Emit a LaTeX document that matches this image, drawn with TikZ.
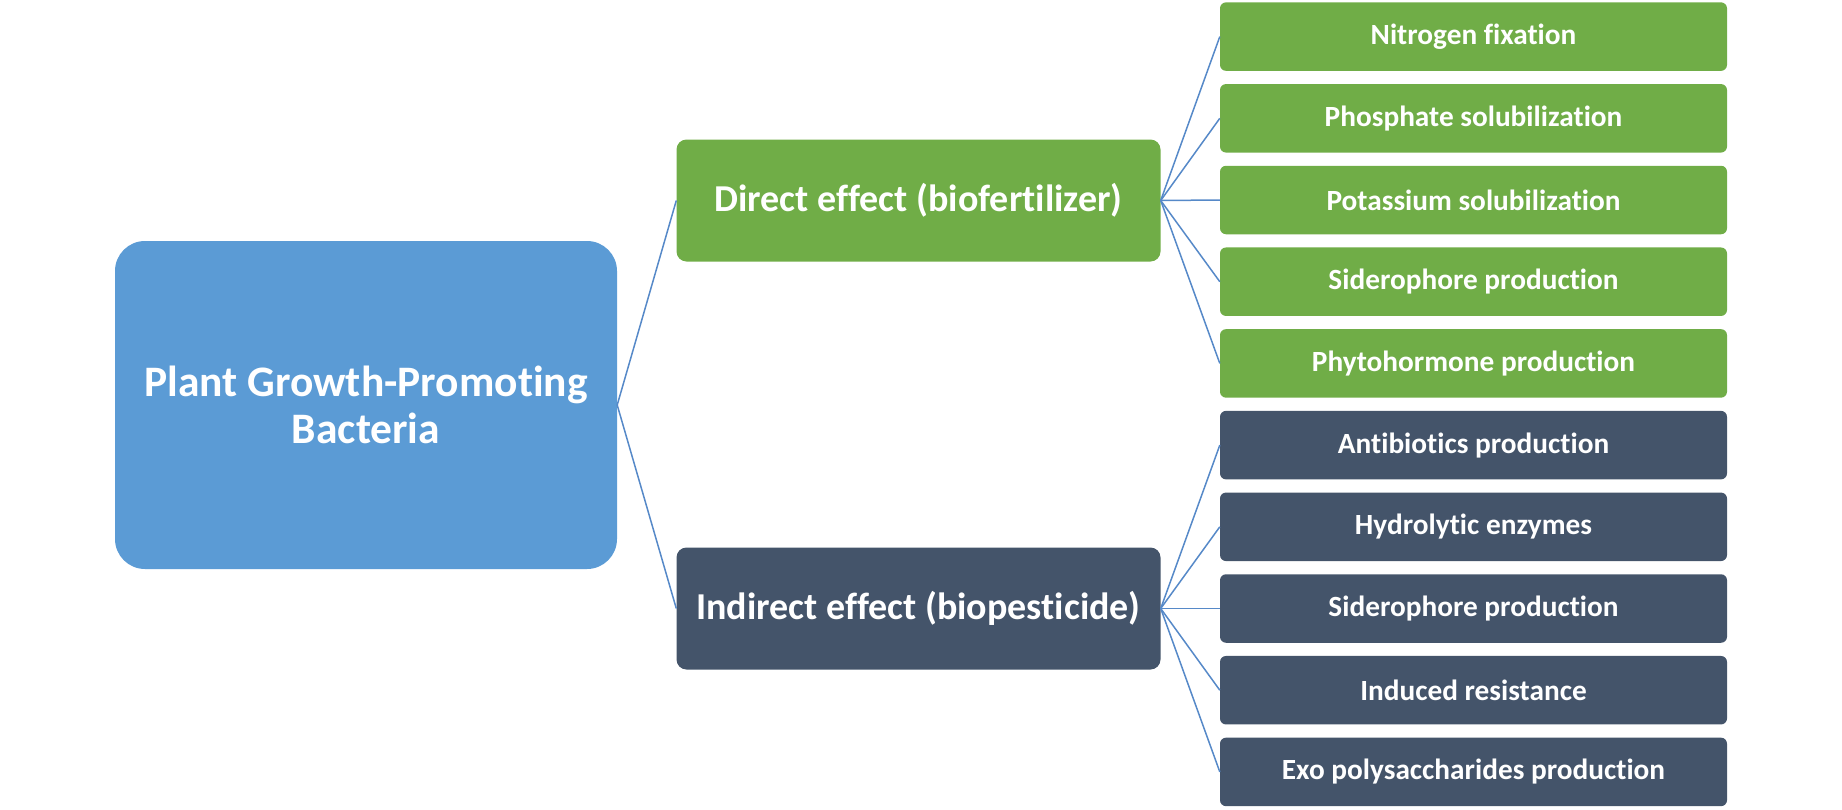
\documentclass[tikz,border=0pt]{standalone}
\usepackage{fontspec}
\setmainfont[Ligatures={NoCommon}]{Carlito}
\definecolor{mainblue}{HTML}{5B9BD5}
\definecolor{leafgreen}{HTML}{70AD47}
\definecolor{slate}{HTML}{44546A}
\definecolor{linkblue}{HTML}{5689C8}
\begin{document}
\begin{tikzpicture}[x=1pt,y=-1pt,
  mainbox/.style={fill=mainblue, text=white, rounded corners=30pt, minimum width=502pt, minimum height=328pt, inner sep=0pt, align=center, font=\fontsize{43.5}{47}\selectfont\bfseries},
  midbox/.style={text=white, rounded corners=10pt, minimum width=484pt, minimum height=122pt, inner sep=0pt, align=center, font=\fontsize{38}{44}\selectfont\bfseries},
  leafbox/.style={text=white, rounded corners=6pt, minimum width=507pt, minimum height=68.5pt, inner sep=0pt, align=center, font=\fontsize{29.3}{34}\selectfont\bfseries},
  link/.style={draw=linkblue, line width=1.5pt}]
\useasboundingbox (0,0) rectangle (1842,809);
\node[mainbox] (pgpb) at (366,405) {Plant Growth-Promoting\\Bacteria};
\node[midbox, fill=leafgreen] (direct) at (918.5,200.5) {Direct effect (biofertilizer)};
\node[midbox, fill=slate] (indirect) at (918.5,608.5) {Indirect effect (biopesticide)};
\foreach \lab [count=\i from 0] in {Nitrogen fixation, Phosphate solubilization, Potassium solubilization, Siderophore production, Phytohormone production}{
  \node[leafbox, fill=leafgreen] (d\i) at (1473.5,{36.6+81.7*\i}) {\lab};
  \draw[link] (direct.east) -- (d\i.west);
}
\foreach \lab [count=\i from 0] in {Antibiotics production, Hydrolytic enzymes, Siderophore production, Induced resistance, Exo polysaccharides production}{
  \node[leafbox, fill=slate] (n\i) at (1473.5,{445.1+81.7*\i}) {\lab};
  \draw[link] (indirect.east) -- (n\i.west);
}
\draw[link] (pgpb.east) -- (direct.west);
\draw[link] (pgpb.east) -- (indirect.west);
\end{tikzpicture}
\end{document}
